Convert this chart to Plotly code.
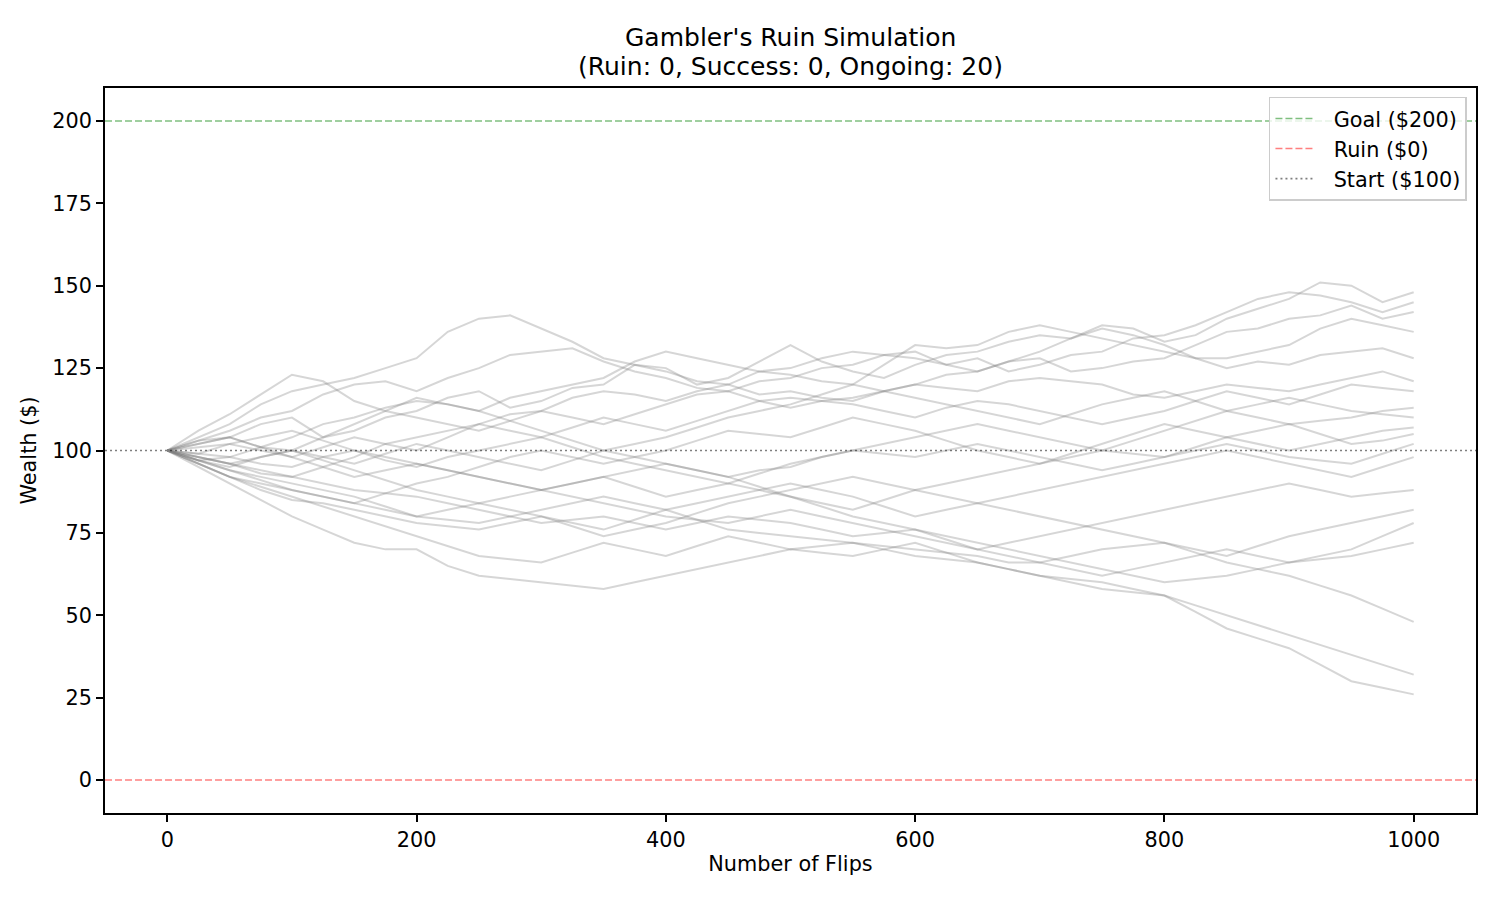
import plotly.graph_objects as go

flips = list(range(0, 1001, 25))

# Estimated wealth of each of the 20 simulated gamblers (read by eye)
path_01 = [100,103,104,108,110,104,106,110,112,116,118,113,115,119,120,126,125,120,122,127,132,127,124,122,126,129,130,133,135,134,138,137,133,135,140,143,146,151,150,145,148]
path_02 = [100,103,106,110,112,117,120,121,118,122,125,129,130,131,127,124,122,119,118,121,122,125,126,129,130,126,128,124,126,129,130,134,135,138,142,146,148,147,145,142,145]
path_03 = [100,104,108,114,118,120,122,125,128,136,140,141,137,133,128,126,124,121,120,117,118,116,115,118,120,123,124,127,128,124,125,127,128,132,136,137,140,141,144,140,142]
path_04 = [100,97,98,101,104,108,110,113,115,114,112,116,118,120,122,127,130,128,126,124,123,121,120,126,132,131,132,136,138,136,134,132,130,128,128,130,132,137,140,138,136]
path_05 = [100,98,96,93,92,95,98,102,104,106,108,111,112,116,118,117,115,118,120,124,125,128,130,129,128,126,124,127,130,134,137,135,132,128,125,127,126,129,130,131,128]
path_06 = [100,106,111,117,123,121,115,112,110,108,106,109,112,110,108,111,114,117,118,115,113,115,116,118,120,119,118,121,122,121,120,117,116,118,120,119,118,120,122,124,121]
path_07 = [100,99,102,100,98,101,104,102,100,104,108,106,104,107,110,108,106,109,112,115,116,115,114,112,110,113,115,114,112,110,108,110,112,115,118,116,114,117,120,119,118]
path_08 = [100,97,95,98,100,104,108,112,116,114,112,109,106,103,100,102,104,107,110,112,114,117,120,118,116,114,112,110,108,111,114,116,118,115,112,110,108,109,110,112,113]
path_09 = [100,102,104,101,100,98,96,99,102,100,98,96,94,97,100,98,96,94,92,94,95,98,100,102,104,106,108,106,104,102,100,103,106,109,112,114,116,114,112,111,110]
path_10 = [100,96,92,90,88,86,84,87,90,92,95,98,100,98,96,98,100,103,106,105,104,107,110,108,106,103,100,98,96,99,102,105,108,106,104,102,100,102,104,106,107]
path_11 = [100,99,98,96,95,98,100,98,96,94,92,90,88,90,92,89,86,88,90,93,96,98,100,99,98,100,102,100,98,96,94,96,98,101,104,106,108,105,102,103,105]
path_12 = [100,101,102,104,106,103,100,97,95,98,100,102,104,101,98,96,94,92,90,88,86,84,82,85,88,90,92,94,96,98,100,99,98,100,102,100,98,97,96,99,102]
path_13 = [100,97,94,92,90,88,86,83,80,82,84,82,80,78,76,79,82,84,86,88,90,88,86,83,80,82,84,86,88,90,92,94,96,98,100,98,96,94,92,95,98]
path_14 = [100,98,96,94,92,90,88,87,86,84,82,80,78,79,80,78,76,78,80,79,78,76,74,75,76,73,70,72,74,76,78,80,82,84,86,88,90,88,86,87,88]
path_15 = [100,96,92,88,85,84,82,80,78,77,76,78,80,77,74,76,78,81,84,86,88,90,92,90,88,86,84,82,80,78,76,74,72,70,68,71,74,76,78,80,82]
path_16 = [100,98,96,98,100,97,94,91,88,86,84,86,88,90,92,94,96,94,92,89,86,83,80,78,76,74,72,70,68,66,64,62,60,61,62,64,66,68,70,74,78]
path_17 = [100,102,104,101,98,95,92,94,96,94,92,90,88,86,84,82,80,79,78,80,82,80,78,76,74,72,70,68,66,64,62,64,66,68,70,68,66,67,68,70,72]
path_18 = [100,97,94,91,88,86,84,82,80,79,78,80,82,84,86,84,82,79,76,75,74,73,72,71,70,69,68,66,66,68,70,71,72,69,66,64,62,59,56,52,48]
path_19 = [100,96,92,89,86,83,80,77,74,71,68,67,66,69,72,70,68,71,74,72,70,71,72,70,68,67,66,64,62,61,60,58,56,53,50,47,44,41,38,35,32]
path_20 = [100,95,90,85,80,76,72,70,70,65,62,61,60,59,58,60,62,64,66,68,70,69,68,70,72,69,66,64,62,60,58,57,56,51,46,43,40,35,30,28,26]

paths = [path_01, path_02, path_03, path_04, path_05, path_06, path_07, path_08, path_09, path_10,
         path_11, path_12, path_13, path_14, path_15, path_16, path_17, path_18, path_19, path_20]

# Reference levels
goal_level = 200
ruin_level = 0
start_level = 100
ruin_count, success_count, ongoing_count = 0, 0, 20

x_ticks = [0, 200, 400, 600, 800, 1000]
y_ticks = [0, 25, 50, 75, 100, 125, 150, 175, 200]
x_range = [-50, 1050]
y_range = [-10, 210]

FONT = "DejaVu Sans"
FS = 20.8
NB = "\u00a0\u00a0"

fig = go.Figure()

for p in paths:
    fig.add_trace(go.Scatter(
        x=flips, y=p, mode="lines",
        line=dict(color="rgba(128,128,128,0.32)", width=2),
        showlegend=False, hoverinfo="skip"))

levels = [
    (goal_level, "Goal ($200)", "rgba(0,128,0,0.5)", "7px,3px"),
    (ruin_level, "Ruin ($0)", "rgba(255,0,0,0.5)", "7px,3px"),
    (start_level, "Start ($100)", "rgba(0,0,0,0.5)", "2px,3px"),
]
for lvl, name, col, dash in levels:
    fig.add_trace(go.Scatter(
        x=x_range, y=[lvl, lvl], mode="lines", name=NB + name,
        line=dict(color=col, width=1.6, dash=dash),
        hoverinfo="skip"))

fig.update_layout(
    width=1500, height=900,
    paper_bgcolor="white", plot_bgcolor="white",
    margin=dict(l=97, r=32, t=80, b=95),
    font=dict(family=FONT, size=FS, color="black"),
    legend=dict(
        x=0.9934, xanchor="right", y=0.9876, yanchor="top",
        bgcolor="rgba(255,255,255,0.8)", bordercolor="#cccccc", borderwidth=1.5,
        font=dict(family=FONT, size=FS, color="black"),
        tracegroupgap=0, itemwidth=40),
    showlegend=True,
    annotations=[
        dict(text="Gambler's Ruin Simulation", xref="paper", yref="paper",
             x=0.5, y=1.069, xanchor="center", yanchor="middle", showarrow=False,
             font=dict(family=FONT, size=25, color="black")),
        dict(text=f"(Ruin: {ruin_count}, Success: {success_count}, Ongoing: {ongoing_count})",
             xref="paper", yref="paper",
             x=0.5, y=1.0303, xanchor="center", yanchor="middle", showarrow=False,
             font=dict(family=FONT, size=25, color="black")),
    ],
)

axis_common = dict(
    showline=True, linecolor="black", linewidth=1.6, mirror=True,
    ticks="outside", ticklen=7, tickwidth=1.6, tickcolor="black",
    showgrid=False, zeroline=False,
    tickfont=dict(family=FONT, size=FS, color="black"),
)
fig.update_xaxes(range=x_range, tickvals=x_ticks,
                 title=dict(text="Number of Flips", font=dict(family=FONT, size=FS), standoff=6),
                 **axis_common)
fig.update_yaxes(range=y_range, tickvals=y_ticks,
                 title=dict(text="Wealth ($)", font=dict(family=FONT, size=FS), standoff=10),
                 **axis_common)

fig.write_html("out.html")
